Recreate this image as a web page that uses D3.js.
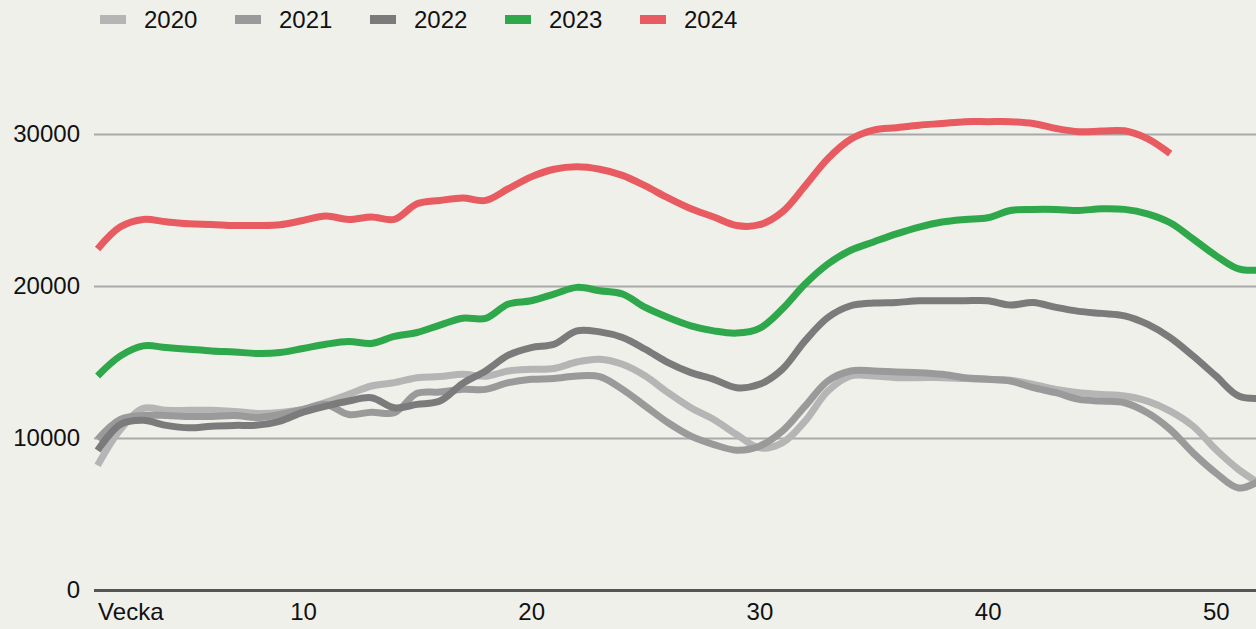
<!DOCTYPE html>
<html>
<head>
<meta charset="utf-8">
<script src="https://cdn.jsdelivr.net/npm/d3@7"></script>
<style>
  body { margin: 0; background: #eff0e9; }
  svg { display: block; font-family: "Liberation Sans", Arial, sans-serif; }
</style>
</head>
<body>
<div id="chart"></div>
<script>
// weeks 1..52
const weeks = d3.range(1, 53);
const years = ['2020', '2021', '2022', '2023', '2024'];
const colors = ['#b5b5b5', '#9a9a9a', '#7b7b7b', '#2ea84a', '#e85b60'];
const yTicks = [0, 10000, 20000, 30000];
const xTicks = [1, 10, 20, 30, 40, 50];

const v2020 = [8200, 10560, 11950, 11820, 11820, 11820, 11750, 11620, 11680, 11880,
  12340, 12870, 13420, 13640, 13970, 14040, 14190, 14060, 14410, 14520,
  14570, 15000, 15180, 14850, 14080, 12980, 11990, 11220, 10230, 9350,
  9680, 11110, 13090, 14080, 14080, 13970, 13970, 13970, 13910, 13860,
  13800, 13530, 13200, 12980, 12870, 12760, 12430, 11770, 10780, 9240,
  7920, 6930];
const v2021 = [9900, 11220, 11480, 11480, 11420, 11420, 11480, 11350, 11550, 11880,
  12210, 11550, 11700, 11660, 12940, 13020, 13200, 13200, 13640, 13860,
  13910, 14080, 14040, 13200, 12100, 11000, 10120, 9570, 9200, 9460,
  10450, 12100, 13750, 14410, 14410, 14340, 14300, 14190, 13970, 13860,
  13750, 13310, 12980, 12540, 12430, 12320, 11660, 10560, 9020, 7700,
  6710, 7260];
const v2022 = [9180, 10890, 11160, 10830, 10670, 10780, 10830, 10850, 11110, 11700,
  12100, 12430, 12650, 11990, 12210, 12430, 13590, 14410, 15450, 15950,
  16170, 17050, 16980, 16610, 15840, 14960, 14300, 13860, 13310, 13530,
  14520, 16390, 17930, 18700, 18880, 18920, 19030, 19030, 19030, 19030,
  18750, 18920, 18590, 18330, 18200, 18040, 17490, 16610, 15400, 14080,
  12760, 12610];
const v2023 = [14080, 15400, 16060, 15950, 15840, 15730, 15660, 15560, 15620, 15890,
  16170, 16350, 16220, 16680, 16940, 17430, 17880, 17870, 18810, 19030,
  19470, 19910, 19690, 19470, 18590, 17930, 17380, 17050, 16900, 17210,
  18480, 20130, 21450, 22350, 22900, 23430, 23880, 24210, 24380, 24490,
  24970, 25040, 25040, 24970, 25080, 25040, 24750, 24160, 23100, 22000,
  21120, 21060];
const v2024 = [22440, 23890, 24380, 24220, 24090, 24050, 23980, 23980, 24030, 24310,
  24600, 24380, 24540, 24380, 25410, 25630, 25790, 25630, 26400, 27180,
  27680, 27840, 27680, 27280, 26580, 25790, 25080, 24540, 23980, 24030,
  24870, 26580, 28380, 29650, 30250, 30410, 30580, 30690, 30810, 30810,
  30810, 30690, 30360, 30150, 30190, 30210, 29700, 28710];

const series = [v2020, v2021, v2022, v2023, v2024];

const width = 1256;
const height = 629;

const svg = d3.select('#chart')
  .append('svg')
  .attr('width', width)
  .attr('height', height)
  .style('background', '#eff0e9');

const x = d3.scaleLinear().domain([1, 52]).range([97.6, 1261.5]);
const y = d3.scaleLinear().domain([0, 30000]).range([590, 134]);

// grid + y labels
const yAxis = svg.append('g')
  .attr('transform', 'translate(94,0)')
  .call(d3.axisLeft(y).tickValues(yTicks).tickSize(-(width - 94)).tickPadding(14).tickFormat(d3.format('d')));
yAxis.select('.domain').remove();
yAxis.selectAll('.tick line')
  .attr('stroke', (d) => d === 0 ? '#555' : '#a9a9a9')
  .attr('stroke-width', (d) => d === 0 ? 3 : 2);
yAxis.selectAll('.tick text')
  .attr('fill', '#111')
  .style('font-size', '24px')
  .style('font-family', '"Liberation Sans", Arial, sans-serif');

// x labels
const xAxis = svg.append('g')
  .attr('transform', 'translate(0,590)')
  .call(d3.axisBottom(x).tickValues(xTicks).tickSize(0).tickPadding(13)
    .tickFormat((d) => d === 1 ? 'Vecka' : d));
xAxis.select('.domain').remove();
xAxis.selectAll('.tick text')
  .attr('fill', '#111')
  .attr('text-anchor', (d) => d === 1 ? 'start' : 'middle')
  .style('font-size', '24px')
  .style('font-family', '"Liberation Sans", Arial, sans-serif');

// lines
const line = d3.line()
  .x((d, i) => x(weeks[i]))
  .y((d) => y(d))
  .curve(d3.curveCatmullRom.alpha(0.5));

svg.append('g')
  .selectAll('path')
  .data(series)
  .join('path')
  .attr('d', (d) => line(d))
  .attr('fill', 'none')
  .attr('stroke', (d, i) => colors[i])
  .attr('stroke-width', 7)
  .attr('stroke-linejoin', 'round');

// legend
const legend = svg.append('g')
  .selectAll('g')
  .data(years)
  .join('g')
  .attr('transform', (d, i) => `translate(${100 + i * 135},0)`);

legend.append('rect')
  .attr('x', 0)
  .attr('y', 15)
  .attr('width', 26)
  .attr('height', 9)
  .attr('fill', (d, i) => colors[i]);

legend.append('text')
  .attr('x', 44)
  .attr('y', 28)
  .attr('fill', '#111')
  .style('font-size', '24px')
  .text((d) => d);
</script>
</body>
</html>
